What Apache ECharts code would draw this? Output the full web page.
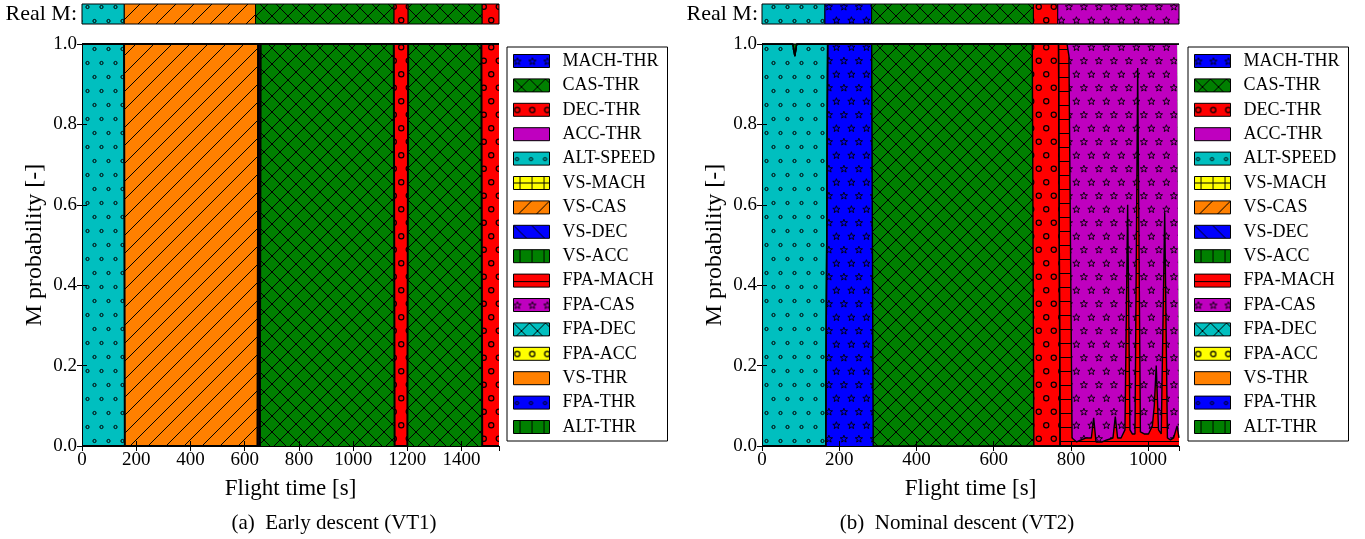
<!DOCTYPE html>
<html><head><meta charset="utf-8">
<script src="https://cdn.jsdelivr.net/npm/echarts@6/dist/echarts.min.js"></script>
<style>html,body{margin:0;padding:0;background:#fff}#c{width:1365px;height:539px}</style>
</head><body><div id="c"></div>
<script>
// ---------- data ----------
const modes = ['MACH-THR','CAS-THR','DEC-THR','ACC-THR','ALT-SPEED','VS-MACH','VS-CAS','VS-DEC','VS-ACC','FPA-MACH','FPA-CAS','FPA-DEC','FPA-ACC','VS-THR','FPA-THR','ALT-THR'];
const yTickLabels = ['0.0','0.2','0.4','0.6','0.8','1.0'];

// (a) Early descent (VT1)
const tL          = [0, 155, 158, 648, 650, 656, 658, 1150, 1153, 1200, 1203, 1473, 1476, 1538];
const L_ALT_SPEED = [1, 1,   0,   0,   0,   0,   0,   0,    0,    0,    0,    0,    0,    0];
const L_VS_CAS    = [0, 0,   1,   1,   0,   0,   0,   0,    0,    0,    0,    0,    0,    0];
const L_ACC_THR   = [0, 0,   0,   0,   1,   1,   0,   0,    0,    0,    0,    0,    0,    0];
const L_CAS_THR   = [0, 0,   0,   0,   0,   0,   1,   1,    0,    0,    1,    1,    0,    0];
const L_DEC_THR   = [0, 0,   0,   0,   0,   0,   0,   0,    1,    1,    0,    0,    1,    1];
const realL_start = [0, 156, 640, 1151, 1203, 1476];
const realL_end   = [156, 640, 1151, 1203, 1476, 1538];
const realL_mode  = ['ALT-SPEED','VS-CAS','CAS-THR','DEC-THR','CAS-THR','DEC-THR'];

// (b) Nominal descent (VT2)
const tR = [0, 80, 85, 90, 165, 170, 284, 288, 700, 704,
            768, 772, 790, 795, 799, 803, 815, 826, 840, 853,
            859, 865, 880, 893, 909, 915, 921, 930, 940, 947,
            953, 959, 966, 973, 980, 990, 1001, 1011, 1016, 1021,
            1027, 1034, 1043, 1050, 1058, 1066, 1075, 1080];
const R_ALT_SPEED = [1,1,0.97,1,1,0,0,0,0,0, 0,0,0,0,0,0,0,0,0,0, 0,0,0,0,0,0,0,0,0,0, 0,0,0,0,0,0,0,0,0,0, 0,0,0,0,0,0,0,0];
const R_ALT_THR   = [0,0,0.03,0,0,0,0,0,0,0, 0,0,0,0,0,0,0,0,0,0, 0,0,0,0,0,0,0,0,0,0, 0,0,0,0,0,0,0,0,0,0, 0,0,0,0,0,0,0,0];
const R_MACH_THR  = [0,0,0,0,0,1,1,0,0,0, 0,0,0,0,0,0,0,0,0,0, 0,0,0,0,0,0,0,0,0,0, 0,0,0,0,0,0,0,0,0,0, 0,0,0,0,0,0,0,0];
const R_CAS_THR   = [0,0,0,0,0,0,0,1,1,0, 0,0,0,0,0,0,0,0,0,0, 0,0,0,0,0,0,0,0,0,0, 0,0,0,0,0,0,0,0,0,0, 0,0,0,0,0,0,0,0];
const R_DEC_THR   = [0,0,0,0,0,0,0,0,0,1, 1,0,0,0,0,0,0,0,0,0, 0,0,0,0,0,0,0,0,0,0, 0,0,0,0,0,0,0,0,0,0, 0,0,0,0,0,0,0,0];
const R_FPA_MACH  = [0,0,0,0,0,0,0,0,0,0, 0,1,1,0.97,0.5,0.02,0.01,0.015,0.02,0.02,
                     0.07,0.01,0.01,0.015,0.02,0.073,0.02,0.02,0.04,0.6,
                     0.04,0.03,0.03,0.94,0.035,0.03,0.03,0.05,0.1,0.2,
                     0.04,0.03,0.58,0.02,0.015,0.02,0.05,0.02];
const R_FPA_CAS   = [0,0,0,0,0,0,0,0,0,0, 0,0,0,0.03,0.5,0.98,0.99,0.985,0.98,0.98,
                     0.93,0.99,0.99,0.985,0.98,0.927,0.98,0.98,0.96,0.4,
                     0.96,0.97,0.97,0.06,0.965,0.97,0.97,0.95,0.9,0.8,
                     0.96,0.97,0.42,0.98,0.985,0.98,0.95,0.98];
const realR_start = [0, 163, 284, 703, 766];
const realR_end   = [163, 284, 703, 766, 1080];
const realR_mode  = ['ALT-SPEED','MACH-THR','CAS-THR','DEC-THR','FPA-CAS'];

// ---------- hatch patterns ----------
const C = {b:'#0000ff', g:'#008000', r:'#ff0000', m:'#bf00bf', c:'#00bfbf', y:'#ffff00', o:'#ff8000'};
function tile(w, h, bg, draw){
  const cv = document.createElement('canvas'); cv.width = w; cv.height = h;
  const g = cv.getContext('2d'); g.fillStyle = bg; g.fillRect(0,0,w,h);
  g.strokeStyle = '#000'; g.lineWidth = 1; if (draw) draw(g, w, h);
  return {image: cv, repeat: 'repeat'};
}
function star(g, cx, cy, R, r){
  g.beginPath();
  for (let k = 0; k < 10; k++){
    const a = -Math.PI/2 + k*Math.PI/5, rr = k%2 ? r : R;
    const x = cx + rr*Math.cos(a), y = cy + rr*Math.sin(a);
    k ? g.lineTo(x,y) : g.moveTo(x,y);
  }
  g.closePath(); g.lineWidth = 0.9; g.stroke();
}
function ring(g, cx, cy, r, lw){ g.beginPath(); g.arc(cx, cy, r, 0, Math.PI*2); g.lineWidth = lw; g.stroke(); }
const H = {
  none: bg => tile(8, 8, bg),
  stars: bg => tile(15, 27, bg, g => { star(g, 3.9, 7.0, 3.8, 1.6); star(g, 11.4, 20.5, 3.8, 1.6); }),
  dots: bg => tile(14, 28, bg, g => { ring(g, 3.5, 7, 1.6, 1.0); ring(g, 10.5, 21, 1.6, 1.0); }),
  circ: bg => tile(15, 27, bg, g => { ring(g, 3.75, 6.75, 2.6, 1.2); ring(g, 11.25, 20.25, 2.6, 1.2); }),
  fwd: bg => tile(18, 18, bg, g => { g.beginPath(); for (const k of [-18,0,18]) { g.moveTo(k,18); g.lineTo(k+18,0); } g.stroke(); }),
  back: bg => tile(18, 18, bg, g => { g.beginPath(); for (const k of [-18,0,18]) { g.moveTo(k,0); g.lineTo(k+18,18); } g.stroke(); }),
  cross: bg => tile(16, 16, bg, g => { g.beginPath(); for (const k of [-16,0,16]) { g.moveTo(k,16); g.lineTo(k+16,0); g.moveTo(k,0); g.lineTo(k+16,16); } g.stroke(); }),
  vert: bg => tile(12, 12, bg, g => { g.beginPath(); g.moveTo(6.5,0); g.lineTo(6.5,12); g.stroke(); }),
  horiz: bg => tile(14, 14, bg, g => { g.beginPath(); g.moveTo(0,7.5); g.lineTo(14,7.5); g.stroke(); }),
  plus: bg => tile(12, 12, bg, g => { g.beginPath(); g.moveTo(6.5,0); g.lineTo(6.5,12); g.moveTo(0,6.5); g.lineTo(12,6.5); g.stroke(); })
};
const patterns = {
  'MACH-THR': H.stars(C.b), 'CAS-THR': H.cross(C.g), 'DEC-THR': H.circ(C.r), 'ACC-THR': H.none(C.m),
  'ALT-SPEED': H.dots(C.c), 'VS-MACH': H.plus(C.y), 'VS-CAS': H.fwd(C.o), 'VS-DEC': H.back(C.b),
  'VS-ACC': H.vert(C.g), 'FPA-MACH': H.horiz(C.r), 'FPA-CAS': H.stars(C.m), 'FPA-DEC': H.cross(C.c),
  'FPA-ACC': H.circ(C.y), 'VS-THR': H.none(C.o), 'FPA-THR': H.dots(C.b), 'ALT-THR': H.vert(C.g)
};

// ---------- option ----------
const FONT = 'Liberation Serif';
const dataL = {'ALT-SPEED': L_ALT_SPEED, 'VS-CAS': L_VS_CAS, 'ACC-THR': L_ACC_THR, 'CAS-THR': L_CAS_THR, 'DEC-THR': L_DEC_THR};
const dataR = {'ALT-SPEED': R_ALT_SPEED, 'ALT-THR': R_ALT_THR, 'MACH-THR': R_MACH_THR, 'CAS-THR': R_CAS_THR, 'DEC-THR': R_DEC_THR, 'FPA-MACH': R_FPA_MACH, 'FPA-CAS': R_FPA_CAS};

const grids = [
  {left: 82, top: 44, width: 417, height: 402},
  {left: 82, top: 4, width: 417, height: 20},
  {left: 762, top: 44, width: 417, height: 402},
  {left: 762, top: 4, width: 417, height: 20}
];
const lbl = {fontFamily: FONT, fontSize: 19, color: '#000'};
const axLine = {show: true, lineStyle: {color: '#000', width: 1}};
const tick = {show: true, inside: true, length: 5, lineStyle: {color: '#000'}};
function xMain(gi, max){
  return [
    {type:'value', gridIndex: gi, min: 0, max: max, interval: 200, z: 5, axisLine: axLine, axisTick: tick, splitLine: {show:false},
     axisLabel: Object.assign({margin: 5, showMaxLabel: false, formatter: v => (v % 200 === 0 ? String(v) : '')}, lbl),
     name: 'Flight time [s]', nameLocation: 'middle', nameGap: 31, nameTextStyle: {fontFamily: FONT, fontSize: 23, color: '#000'}},
    {type:'value', gridIndex: gi, position: 'top', min: 0, max: max, interval: 200, z: 5, axisLine: axLine, axisTick: tick, axisLabel: {show:false}, splitLine: {show:false}}
  ];
}
function yMain(gi){
  return [
    {type:'value', gridIndex: gi, min: 0, max: 1, interval: 0.2, z: 5, axisLine: axLine, axisTick: tick, splitLine: {show:false},
     axisLabel: Object.assign({margin: 5, formatter: (v) => yTickLabels[Math.round(v*5)]}, lbl),
     name: 'M probability [-]', nameLocation: 'middle', nameGap: 35, nameTextStyle: {fontFamily: FONT, fontSize: 24, color: '#000'}},
    {type:'value', gridIndex: gi, position: 'right', min: 0, max: 1, interval: 0.2, z: 5, axisLine: axLine, axisTick: tick, axisLabel: {show:false}, splitLine: {show:false}}
  ];
}
const hiddenX = (gi, max) => ({type:'value', gridIndex: gi, min: 0, max: max, show: false});
const hiddenY = gi => ({type:'value', gridIndex: gi, min: 0, max: 1, show: false});

// axis index: 0 main-bottom L, 1 main-top L, 2 strip L, 3 main-bottom R, 4 main-top R, 5 strip R
const xAxis = [...xMain(0, 1538), hiddenX(1, 1538), ...xMain(2, 1080), hiddenX(3, 1080)];
const yAxis = [...yMain(0), hiddenY(1), ...yMain(2), hiddenY(3)];

const series = [];
// stacked areas: cumulative tops computed here, painted top-of-stack first so lower layers cover them
function addStack(t, data, xi, yi, lw){
  const cum = t.map(() => 0);
  const layers = modes.map(m => {
    const v = data[m];
    if (!v) return {m: m, top: null};
    v.forEach((val, i) => { cum[i] += val; });
    return {m: m, top: cum.slice()};
  });
  for (let k = layers.length - 1; k >= 0; k--){
    const L = layers[k];
    series.push({
      type: 'line', name: L.m, xAxisIndex: xi, yAxisIndex: yi,
      data: L.top ? t.map((x, i) => [x, Math.min(1, L.top[i])]) : [],
      symbol: 'none', silent: true, z: 2,
      lineStyle: {color: '#000', width: lw},
      areaStyle: {color: patterns[L.m], opacity: 1}
    });
  }
}
addStack(tL, dataL, 0, 0, 2);
addStack(tR, dataR, 3, 3, 1.4);

function addStrip(st, en, md, xi, yi){
  series.push({
    type: 'custom', name: 'real' + xi, xAxisIndex: xi, yAxisIndex: yi, silent: true,
    data: st.map((s, i) => [s, en[i], modes.indexOf(md[i])]),
    renderItem: (params, api) => {
      const a = api.coord([api.value(0), 1]);
      const b = api.coord([api.value(1), 0]);
      return {type: 'rect', shape: {x: a[0], y: a[1], width: b[0] - a[0], height: b[1] - a[1]},
              style: {fill: patterns[modes[api.value(2)]], stroke: '#000', lineWidth: 1}};
    }
  });
}
addStrip(realL_start, realL_end, realL_mode, 2, 2);
addStrip(realR_start, realR_end, realR_mode, 5, 5);

function legend(left){
  return {
    orient: 'vertical', left: left, top: 47, icon: 'rect', itemWidth: 36, itemHeight: 13, itemGap: 6.4,
    padding: [5, 9, 5, 6], borderColor: '#000', borderWidth: 1, backgroundColor: '#fff', selectedMode: false,
    textStyle: {fontFamily: FONT, fontSize: 18, color: '#000', lineHeight: 13, padding: [0, 0, 0, 8]},
    data: modes.map(m => ({name: m, itemStyle: {color: patterns[m], borderColor: '#000', borderWidth: 1}}))
  };
}

const txt = (x, y, s, size, align) => ({type: 'text', x: x, y: y, silent: true,
  style: {text: s, fontFamily: FONT, fontSize: size, fill: '#000', align: align, verticalAlign: 'middle'}});

const option = {
  animation: false,
  backgroundColor: '#fff',
  grid: grids, xAxis: xAxis, yAxis: yAxis, series: series,
  legend: [legend(507), legend(1188)],
  graphic: [
    txt(77, 14, 'Real M:', 22, 'right'),
    txt(758, 14, 'Real M:', 22, 'right'),
    txt(334, 523, '(a)  Early descent (VT1)', 21, 'center'),
    txt(957, 523, '(b)  Nominal descent (VT2)', 21, 'center')
  ]
};
const chart = echarts.init(document.getElementById('c'), null, {renderer: 'canvas'});
chart.setOption(option);
</script></body></html>
